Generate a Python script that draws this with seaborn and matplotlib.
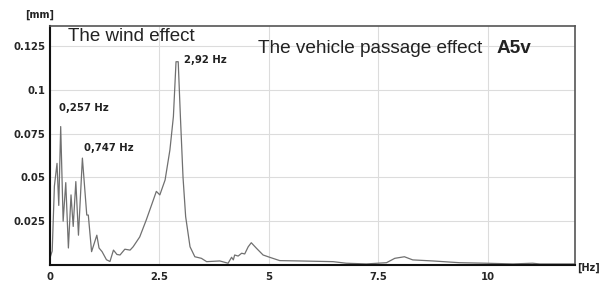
import matplotlib
matplotlib.use("Agg")
import matplotlib.pyplot as plt
from matplotlib.ticker import MultipleLocator
import seaborn as sns
import pandas as pd

# Spectrum
freq = [0.0, 0.05, 0.1, 0.16, 0.2, 0.244, 0.3, 0.36, 0.42, 0.48, 0.53, 0.59, 0.65,
        0.74, 0.84, 0.875, 0.95, 1.07, 1.12, 1.19, 1.29, 1.37, 1.45, 1.53, 1.6,
        1.71, 1.83, 1.9, 2.05, 2.2, 2.36, 2.43, 2.51, 2.63, 2.74, 2.82, 2.88,
        2.93, 2.98, 3.04, 3.1, 3.2, 3.31, 3.46, 3.58, 3.88, 4.07, 4.15, 4.19,
        4.22, 4.3, 4.38, 4.45, 4.53, 4.6, 4.72, 4.87, 5.02, 5.25, 5.7, 6.47,
        6.77, 7.23, 7.69, 7.88, 8.1, 8.29, 8.75, 9.36, 9.97, 10.58, 11.03,
        11.19, 12.0]
amp = [0.004, 0.008, 0.045, 0.058, 0.034, 0.079, 0.025, 0.047, 0.0097, 0.040,
       0.022, 0.0476, 0.017, 0.061, 0.0285, 0.0285, 0.0076, 0.017, 0.0097,
       0.0076, 0.003, 0.002, 0.0085, 0.006, 0.0057, 0.009, 0.0085, 0.0104,
       0.016, 0.0257, 0.037, 0.042, 0.040, 0.0485, 0.0656, 0.0847, 0.116,
       0.116, 0.0847, 0.050, 0.0276, 0.0104, 0.0047, 0.0038, 0.0019, 0.0023,
       0.001, 0.0044, 0.0029, 0.0057, 0.0051, 0.0067, 0.0063, 0.0104, 0.0127,
       0.0095, 0.0057, 0.0044, 0.0025, 0.0023, 0.0019, 0.001, 0.0006, 0.0013,
       0.0038, 0.0047, 0.0029, 0.0023, 0.0013, 0.001, 0.0006, 0.001, 0.0006,
       0.0006]

peak_labels = ["0,257 Hz", "0,747 Hz", "2,92 Hz"]
peak_pos = [(0.2, 0.0895), (0.77, 0.067), (3.07, 0.117)]

df = pd.DataFrame({"f": freq, "a": amp})

sns.set_style("white")
plt.rcParams["font.family"] = ["Liberation Sans", "DejaVu Sans"]

fig = plt.figure(figsize=(5.99, 2.81), dpi=100)
ax = fig.add_axes([0.0835, 0.057, 0.8765, 0.8505])

sns.lineplot(data=df, x="f", y="a", color="#707070", linewidth=0.9, ax=ax)

ax.set_xlim(0, 12)
ax.set_ylim(0, 0.1364)
ax.xaxis.set_minor_locator(MultipleLocator(1.25))
ax.yaxis.set_minor_locator(MultipleLocator(0.0125))
ax.set_xticks([0, 2.5, 5, 7.5, 10])
ax.set_xticklabels(["0", "2.5", "5", "7.5", "10"])
ax.set_yticks([0.025, 0.05, 0.075, 0.1, 0.125])
ax.set_yticklabels(["0.025", "0.05", "0.075", "0.1", "0.125"])
ax.grid(True, which="major", color="#dcdcdc", linewidth=0.8)

for lab in ax.get_xticklabels() + ax.get_yticklabels():
    lab.set_fontfamily("DejaVu Sans")
    lab.set_fontweight("bold")
    lab.set_fontsize(7.3)
ax.tick_params(which="major", direction="inout", length=6, width=1.2,
               color="#111111", pad=2)
ax.tick_params(which="minor", direction="inout", length=4, width=1.0,
               color="#111111")
ax.tick_params(axis="y", pad=0.5)

ax.set_xlabel("")
ax.set_ylabel("")
for side in ["left", "bottom"]:
    ax.spines[side].set_color("#111111")
    ax.spines[side].set_linewidth(1.5)
for side in ["top", "right"]:
    ax.spines[side].set_color("#555555")
    ax.spines[side].set_linewidth(1.2)

ax.text(0.4, 0.1305, "The wind effect", fontsize=13.5, va="center", color="#222222")
ax.text(4.75, 0.1238, "The vehicle passage effect", fontsize=13.7, va="center",
        color="#222222")
ax.text(10.2, 0.1235, "A5v", fontsize=13.7, fontweight="bold", va="center",
        color="#222222")

for lab, (px, py) in zip(peak_labels, peak_pos):
    ax.text(px, py, lab, fontsize=7.3, fontweight="bold", family="DejaVu Sans",
            va="center", color="#222222")

fig.text(0.042, 0.948, "[mm]", fontsize=7, fontweight="bold",
         family="DejaVu Sans", va="center", color="#222222")
fig.text(0.963, 0.046, "[Hz]", fontsize=7, fontweight="bold",
         family="DejaVu Sans", va="center", color="#222222")

fig.savefig("out.png", dpi=100, facecolor="white")
